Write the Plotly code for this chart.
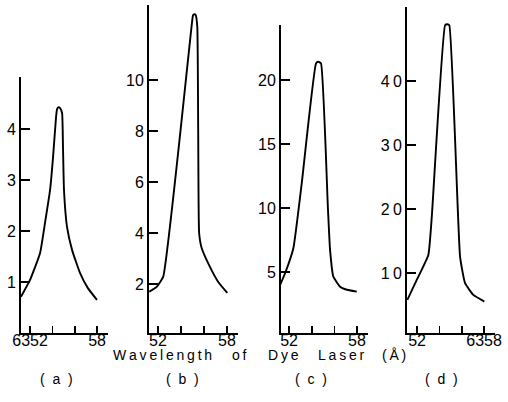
import plotly.graph_objects as go

# ---- data (wavelength offset in Å from 6300, intensity) ----
a_x = [51.19, 52.0, 52.9, 53.34, 53.79, 54.06, 54.33, 54.42, 54.55, 54.69, 54.87, 54.95, 55.04, 55.31, 55.76, 56.47, 57.18, 57.99]
a_y = [0.71, 1.04, 1.57, 2.16, 2.80, 3.45, 4.24, 4.39, 4.43, 4.41, 4.31, 3.65, 2.80, 2.08, 1.63, 1.18, 0.88, 0.65]

b_x = [51.24, 51.89, 52.46, 55.02, 55.07, 55.18, 55.28, 55.42, 55.5, 55.58, 55.8, 56.52, 57.24, 58.03]
b_y = [1.70, 1.89, 2.29, 12.48, 12.55, 12.58, 12.55, 12.09, 7.92, 4.0, 3.41, 2.67, 2.08, 1.65]

c_x = [51.21, 51.65, 52.38, 53.12, 54.38, 54.59, 54.82, 55.43, 55.62, 55.91, 56.5, 57.03, 57.98]
c_y = [3.98, 4.90, 6.85, 11.93, 21.3, 21.43, 21.3, 10.0, 6.72, 4.63, 3.85, 3.63, 3.46]

d_x = [51.13, 51.97, 53.01, 53.32, 54.51, 54.71, 54.89, 55.85, 56.3, 57.04, 58.03]
d_y = [5.78, 8.9, 12.81, 18.8, 48.75, 48.9, 48.75, 12.55, 8.39, 6.56, 5.52]

x_tickvals = [52, 54, 56, 58]
x_ticktext = {
    "a": ["6352", "", "", "58"],
    "b": ["52", "", "", "58"],
    "c": ["52", "", "", "58"],
    "d": ["52", "", "", "6358"],
}
y_tickvals = {
    "a": [1, 2, 3, 4],
    "b": [2, 4, 6, 8, 10],
    "c": [5, 10, 15, 20],
    "d": [10, 20, 30, 40],
}
y_ticktext = {
    "a": ["1", "2", "3", "4"],
    "b": ["2", "4", "6", "8", "10"],
    "c": ["5", "10", "15", "20"],
    "d": ["1\u20090", "2\u20090", "3\u20090", "4\u20090"],
}
panel_labels = ["(\u00a0\u00a0a\u00a0\u00a0)", "(\u00a0\u00a0b\u00a0\u00a0)", "(\u00a0\u00a0c\u00a0\u00a0)", "(\u00a0\u00a0d\u00a0\u00a0)"]
xlabel_words = ["Wavelength", "of", "Dye", "Laser", "(Å)"]

# ---- layout geometry (pixels) ----
W, H = 508, 402
panels = {
    "a": dict(l=21, r=108, b=333, t=77, xr=[51.19, 58.98], yr=[0.0, 5.02]),
    "b": dict(l=149, r=238, b=333, t=5, xr=[51.22, 58.96], yr=[0.08, 12.94]),
    "c": dict(l=281, r=368, b=333, t=25, xr=[51.29, 58.97], yr=[0.23, 24.3]),
    "d": dict(l=407, r=495, b=333, t=7, xr=[51.10, 58.98], yr=[0.6, 51.6]),
}
series = {"a": (a_x, a_y), "b": (b_x, b_y), "c": (c_x, c_y), "d": (d_x, d_y)}

FONT = "Liberation Sans"
fig = go.Figure()
layout = dict(
    template="none",
    width=W, height=H, autosize=False, margin=dict(l=0, r=0, t=0, b=0, pad=0),
    paper_bgcolor="white", plot_bgcolor="white", showlegend=False,
    font=dict(family=FONT, color="black", size=16),
)

for i, k in enumerate(["a", "b", "c", "d"]):
    p = panels[k]
    n = "" if i == 0 else str(i + 1)
    xs, ys = series[k]
    fig.add_trace(go.Scatter(
        x=xs, y=ys, mode="lines", xaxis="x" + n, yaxis="y" + n,
        line=dict(color="black", width=1.9, shape="spline", smoothing=0.4),
        cliponaxis=False, hoverinfo="skip",
    ))
    layout["xaxis" + n] = dict(
        domain=[p["l"] / W, p["r"] / W], range=p["xr"], anchor="y" + n,
        automargin=False,
        showgrid=False, zeroline=False, showline=True, linecolor="black", linewidth=2,
        ticks="inside", ticklen=7, tickwidth=1.6, tickcolor="black",
        ticklabelstandoff=-8,
        tickvals=x_tickvals, ticktext=x_ticktext[k], tickfont=dict(size=16, family=FONT),
        fixedrange=True,
    )
    layout["yaxis" + n] = dict(
        domain=[(H - p["b"]) / H, (H - p["t"]) / H], range=p["yr"], anchor="x" + n,
        automargin=False,
        showgrid=False, zeroline=False, showline=True, linecolor="black", linewidth=2,
        ticks="inside", ticklen=9, tickwidth=1.6, tickcolor="black",
        tickvals=y_tickvals[k], ticktext=y_ticktext[k], tickfont=dict(size=16, family=FONT),
        fixedrange=True,
    )

annotations = []
word_centers = [162.5, 239, 283.5, 341.5, 394]
for wd, cx in zip(xlabel_words, word_centers):
    txt = "\u2009".join(list(wd))
    annotations.append(dict(text=txt, x=cx / W, y=(H - 355) / H, xref="paper", yref="paper",
                            xanchor="center", yanchor="middle", showarrow=False,
                            font=dict(size=14, family=FONT, color="black")))
for lab, cx in zip(panel_labels, [56.5, 182, 311, 441]):
    annotations.append(dict(text=lab, x=cx / W, y=(H - 379) / H, xref="paper", yref="paper",
                            xanchor="center", yanchor="middle", showarrow=False,
                            font=dict(size=14, family=FONT, color="black")))
layout["annotations"] = annotations
fig.update_layout(**layout)
fig.write_html(
    "out.html",
    config={"staticPlot": True},
    post_script="document.body.style.margin='0px';document.body.style.padding='0px';document.body.style.overflow='hidden';",
)
